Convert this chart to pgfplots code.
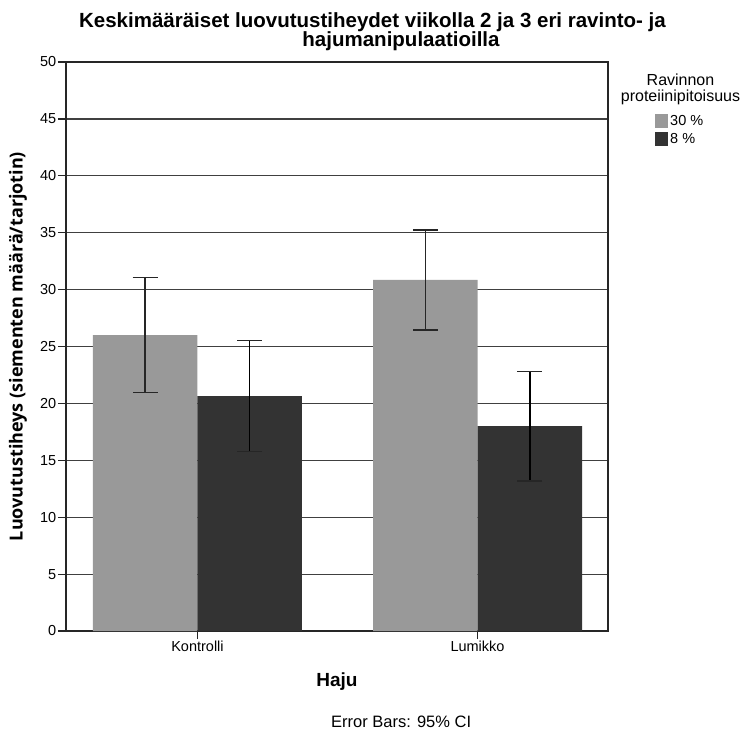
\documentclass[border=0pt]{standalone}
\usepackage{fontspec}
\setmainfont{Liberation Sans}
\newfontfamily\ylabfont{Open Sans}
\usepackage{pgfplots}
\pgfplotsset{compat=1.18}
\definecolor{c30}{HTML}{999999}
\definecolor{c8}{HTML}{333333}
\begin{document}
\begin{tikzpicture}[x=1pt,y=1pt]
\begin{axis}[
  name=ax,
  scale only axis, width=542pt, height=569pt,
  xmin=-0.4696, xmax=1.466, ymin=0, ymax=50,
  ytick={0,5,...,50}, xtick={0,1}, xticklabels={Kontrolli,Lumikko},
  ymajorgrids, grid style={black!75, line width=1.2pt},
  axis line style={black!85, line width=1.2pt},
  tick style={black!85, line width=1.2pt},
  tick align=outside, major tick length=8pt,
  xtick pos=bottom, ytick pos=left,
  /pgf/number format/assume math mode=true,
  yticklabel style={font=\fontsize{14.5}{16}\selectfont, inner sep=1.5pt},
  xticklabel style={font=\fontsize{14.5}{16}\selectfont, inner sep=2pt},
  ybar=0pt, bar width=104.5pt,
  xlabel={Haju},
  ylabel={\ylabfont Luovutustiheys (siementen määrä/tarjotin)},
  every axis x label/.style={at={(axis description cs:0.5,0)}, anchor=base, yshift=-55pt, font=\bfseries\fontsize{19}{19}\selectfont},
  every axis y label/.style={at={(axis description cs:0,0.5)}, xshift=-48pt, rotate=90, anchor=center, font=\bfseries\fontsize{18}{18}\selectfont},
  legend style={at={(axis description cs:1,1)}, anchor=north west, xshift=47pt, yshift=-52pt, draw=none, fill=none, inner sep=0pt, row sep=4pt, font=\fontsize{14.5}{14}\selectfont, cells={anchor=west}, nodes={inner xsep=2pt, inner ysep=0pt}},
  legend image code/.code={\fill[#1, draw=none] (0pt,-7pt) rectangle (13pt,7pt);},
]
\coordinate (O) at (rel axis cs:0,0);
\addplot[fill=c30, draw=none, error bars/.cd, y dir=both, y explicit,
  error bar style={draw=black!85, line width=1.5pt},
  error mark options={rotate=90, mark size=12.5pt, draw=black!85, line width=1.5pt}]
  coordinates {(0,26.0) +- (0,5.05) (1,30.85) +- (0,4.4)};
\addplot[fill=c8, draw=none, error bars/.cd, y dir=both, y explicit,
  error bar style={draw=black, line width=1.5pt},
  error mark options={rotate=90, mark size=12.5pt, draw=black!85, line width=1.5pt}]
  coordinates {(0,20.65) +- (0,4.87) (1,18.0) +- (0,4.8)};
\legend{30 \%, 8 \%}
\end{axis}
\begin{scope}[shift={(O)}, xshift=-66pt, yshift=-98pt]
\node[font=\bfseries\fontsize{20.5}{20}\selectfont, anchor=base, inner sep=0] at (372.5,701) {Keskimääräiset luovutustiheydet viikolla 2 ja 3 eri ravinto- ja};
\node[font=\bfseries\fontsize{20.5}{20}\selectfont, anchor=base, inner sep=0] at (401,682) {hajumanipulaatioilla};
\node[font=\fontsize{16}{16}\selectfont, anchor=base, inner sep=0] at (680.5,643) {Ravinnon};
\node[font=\fontsize{16}{16}\selectfont, anchor=base, inner sep=0] at (680.5,627) {proteiinipitoisuus};
\node[font=\fontsize{16.5}{16}\selectfont, anchor=base west, inner sep=0] at (331,2) {Error Bars: 95\% CI};
\pgfresetboundingbox
\path[use as bounding box] (0,0) rectangle (745,729);
\end{scope}
\end{tikzpicture}
\end{document}
